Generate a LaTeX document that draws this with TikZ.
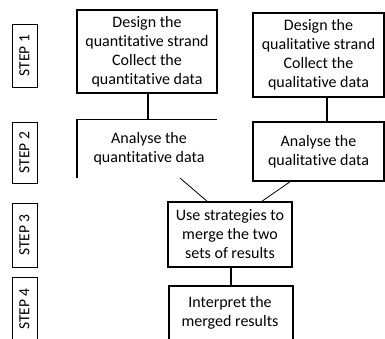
\documentclass[tikz,border=0pt]{standalone}
\usepackage{fontspec}
\setmainfont[Ligatures=NoCommon]{Carlito}
\begin{document}
\begin{tikzpicture}[x=1pt,y=-1pt,
  every node/.style={font=\fontsize{16}{19}\selectfont, align=center, inner sep=0pt},
  steplabel/.style={font=\fontsize{15.5}{19}\selectfont, rotate=90},
  mainbox/.style={draw, line width=1.6pt},
  stepbox/.style={draw, line width=0.9pt},
  link/.style={line width=1.6pt},
  diag/.style={line width=0.8pt}]
\useasboundingbox (0,0) rectangle (385,338);
% step labels
\draw[stepbox] (12,24) rectangle (37,87);
\node[steplabel] (s1) at (24.5,55.5) {STEP 1};
\draw[stepbox] (12,122) rectangle (37,183);
\node[steplabel] (s2) at (24.5,152.5) {STEP 2};
\draw[stepbox] (12,203) rectangle (37,267);
\node[steplabel] (s3) at (24.5,235) {STEP 3};
\draw[stepbox] (12,339) -- (12,277) -- (37,277) -- (37,339);
\node[steplabel] (s4) at (24.5,309) {STEP 4};
% quantitative design
\node[mainbox, minimum width=140pt, minimum height=83pt] (qd) at (147,51.5)
  {Design the\\quantitative strand\\Collect the\\quantitative data};
% quantitative analysis (partial box)
\coordinate (qa) at (148,119.5);
\draw[link] (77,178) -- (77,119.5) -- (217,119.5);
\node (qatext) at (149,149) {Analyse the\\quantitative data};
\draw[link] (qd.south -| qa) -- (qa);
% qualitative design
\node[mainbox, minimum width=131pt, minimum height=84pt] (ld) at (318.5,55)
  {Design the\\qualitative strand\\Collect the\\qualitative data};
\node[mainbox, minimum width=131pt, minimum height=59pt] (la) at (318.5,151.5)
  {Analyse the\\qualitative data};
\draw[link] (ld.south -| 327,0) -- (la.north -| 327,0);
% merge
\node[mainbox, minimum width=124pt, minimum height=65pt] (mg) at (230,234.5)
  {Use strategies to\\merge the two\\sets of results};
\coordinate (qaend) at (180,178);
\draw[diag] (qaend) -- (mg.north -| 207,0);
\draw[diag] (la.south -| 290,0) -- (mg.north -| 262,0);
% interpret (partial box)
\draw[link] (169,339) -- (169,286) -- (293,286) -- (293,339);
\coordinate (ip) at (231,286);
\node (iptext) at (230,313) {Interpret the\\merged results};
\draw[link] (mg.south -| ip) -- (ip);
\end{tikzpicture}
\end{document}
